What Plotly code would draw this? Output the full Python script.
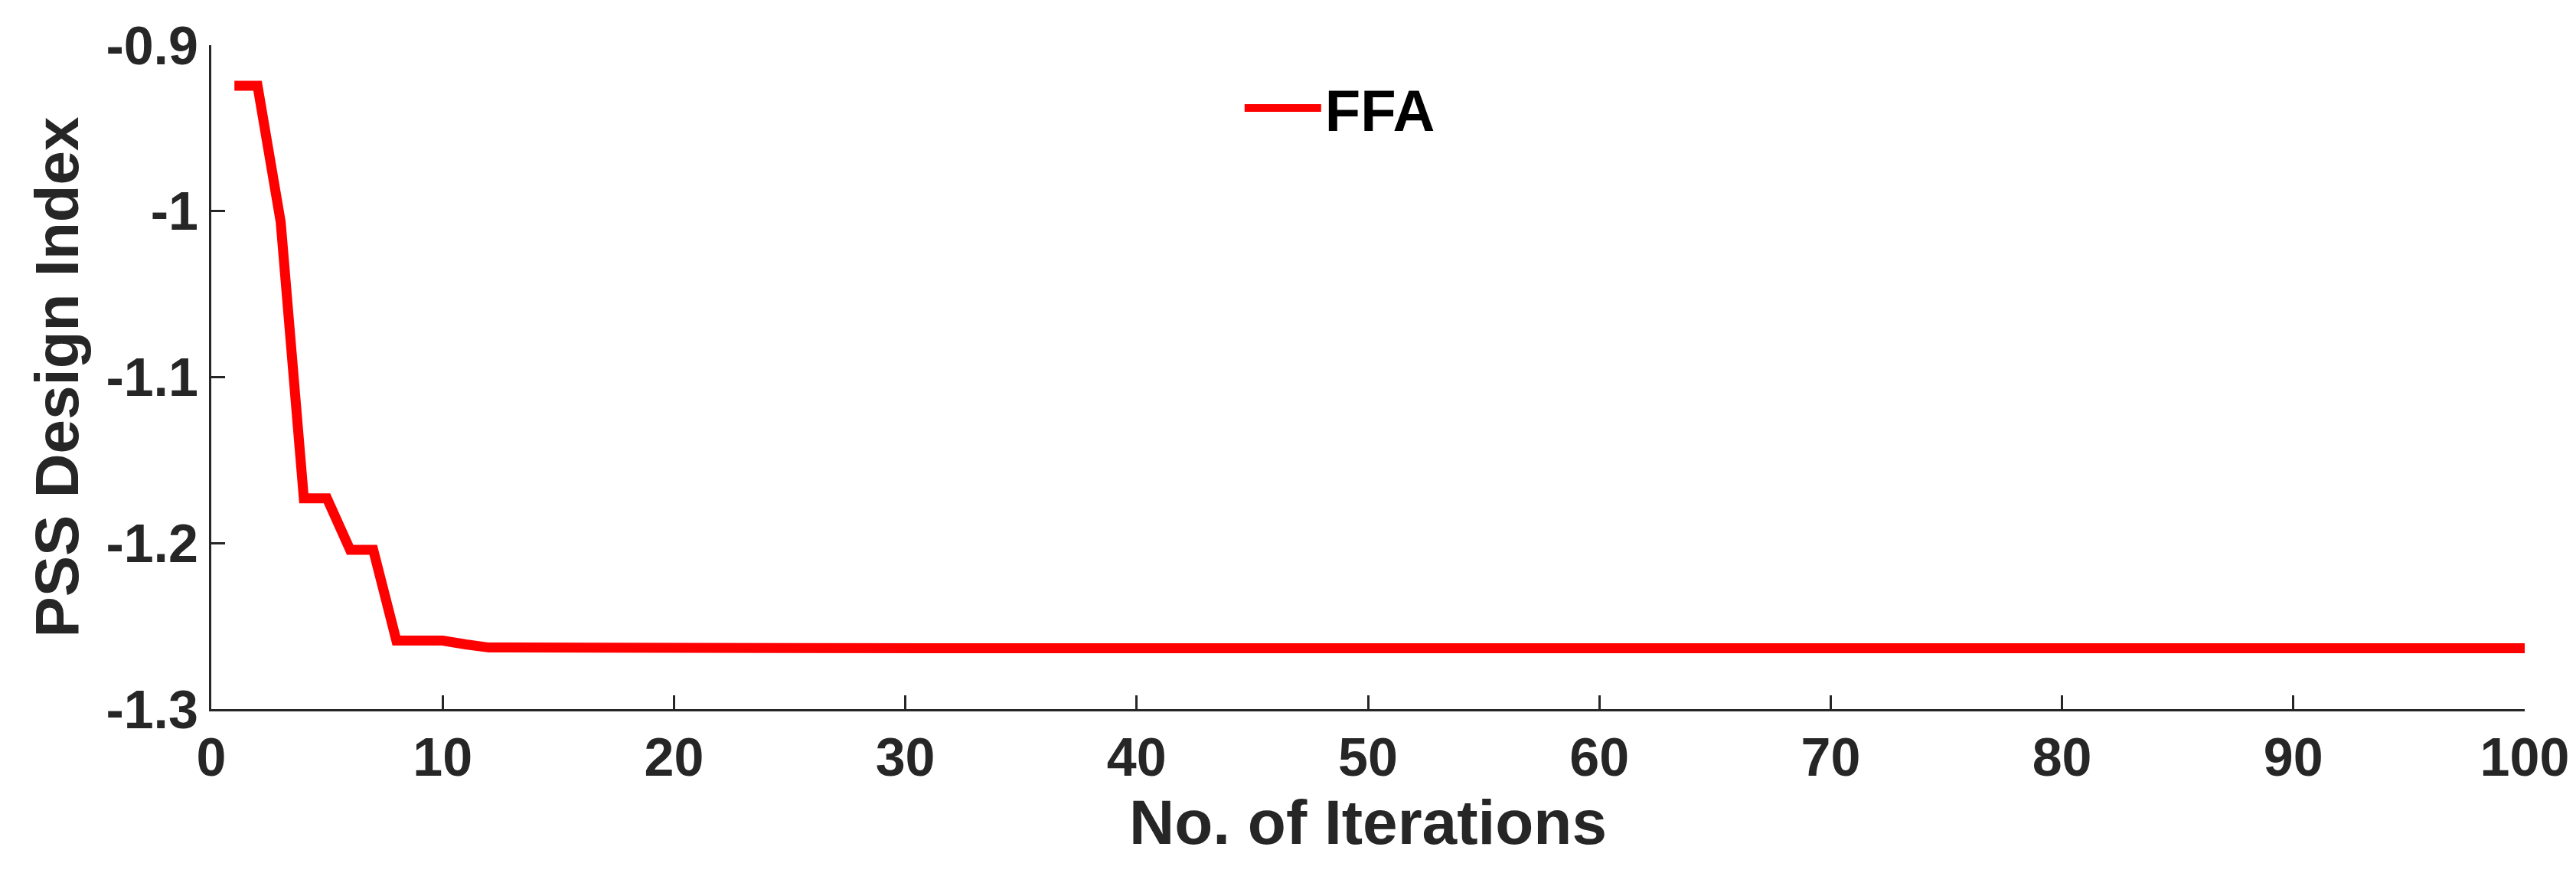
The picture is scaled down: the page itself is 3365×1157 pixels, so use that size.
import plotly.graph_objects as go

# FFA convergence curve
iterations = list(range(1, 101))
early = [-0.9245, -0.9245, -1.0065, -1.173, -1.173, -1.204, -1.204,
         -1.2587, -1.2587, -1.2587, -1.261, -1.2629, -1.2629, -1.263, -1.2632]
design_index = early + [-1.2633] * (100 - len(early))

x_ticks = list(range(0, 101, 10))
y_ticks = [-1.3, -1.2, -1.1, -1.0, -0.9]
y_labels = ["-1.3", "-1.2", "-1.1", "-1", "-0.9"]

fig = go.Figure()
fig.add_trace(go.Scatter(x=iterations, y=design_index, mode="lines", name="<b>FFA</b>",
                         line=dict(color="#ff0000", width=13)))

axis_font = dict(family="Liberation Sans", size=70, color="#262626")
fig.update_layout(
    width=3365, height=1157,
    paper_bgcolor="white", plot_bgcolor="white",
    margin=dict(l=268, r=75, t=43, b=239),
    font=dict(family="Liberation Sans", color="#262626"),
    showlegend=True,
    legend=dict(x=0.445, y=0.97, xanchor="left", yanchor="top",
                font=dict(family="Liberation Sans", size=76, color="black"),
                bgcolor="rgba(0,0,0,0)", itemwidth=100),
)
fig.update_xaxes(range=[0, 100], tickvals=x_ticks, ticktext=["<b>%d</b>" % v for v in x_ticks],
                 showgrid=False, zeroline=False, showline=True, linecolor="#262626",
                 linewidth=3, ticks="inside", ticklen=18, tickwidth=3, tickcolor="#262626",
                 tickfont=axis_font,
                 title=dict(text="<b>No. of Iterations</b>", font=dict(size=82, color="#262626"),
                            standoff=10))
fig.update_yaxes(range=[-1.3, -0.9], tickvals=y_ticks, ticktext=["<b>%s</b>" % t for t in y_labels],
                 showgrid=False, zeroline=False, showline=True, linecolor="#262626",
                 linewidth=3, ticks="inside", ticklen=18, tickwidth=3, tickcolor="#262626",
                 tickfont=axis_font,
                 title=dict(text="<b>PSS Design Index</b>", font=dict(size=80, color="#262626"),
                            standoff=10))

fig.write_html("out.html")
